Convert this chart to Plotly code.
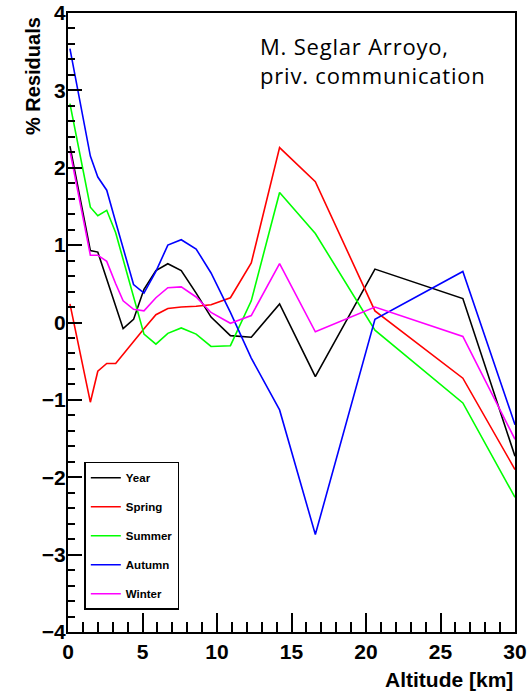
import plotly.graph_objects as go

# Altitude levels [km]
altitude = [0.13, 1.5, 2.0, 2.6, 3.2, 3.7, 4.4, 5.1, 5.9, 6.7,
            7.6, 8.6, 9.6, 10.9, 12.3, 14.2, 16.6, 20.6, 26.5, 30.0]

# Residuals [%] per season
year = [2.28, 0.93, 0.91, 0.56, 0.19, -0.08, 0.04, 0.43, 0.67, 0.76,
        0.67, 0.38, 0.07, -0.17, -0.19, 0.24, -0.70, 0.69, 0.31, -1.73]
spring = [0.24, -1.03, -0.63, -0.53, -0.53, -0.41, -0.25, -0.08, 0.10, 0.18,
          0.20, 0.21, 0.23, 0.32, 0.77, 2.26, 1.82, 0.15, -0.72, -1.90]
summer = [2.83, 1.49, 1.38, 1.45, 1.16, 0.82, 0.33, -0.15, -0.28, -0.14,
          -0.07, -0.15, -0.31, -0.30, 0.28, 1.68, 1.15, -0.10, -1.04, -2.26]
autumn = [3.54, 2.15, 1.88, 1.71, 1.30, 0.96, 0.49, 0.38, 0.66, 1.00,
          1.07, 0.95, 0.64, 0.13, -0.46, -1.13, -2.74, 0.04, 0.66, -1.32]
winter = [2.22, 0.87, 0.87, 0.79, 0.50, 0.28, 0.17, 0.15, 0.32, 0.45,
          0.46, 0.33, 0.13, -0.01, 0.09, 0.76, -0.12, 0.20, -0.18, -1.51]

series = [
    ("Year", year, "#000000"),
    ("Spring", spring, "#ff0000"),
    ("Summer", summer, "#00ff00"),
    ("Autumn", autumn, "#0000ff"),
    ("Winter", winter, "#ff00ff"),
]

fig = go.Figure()
for name, vals, color in series:
    fig.add_trace(go.Scatter(
        x=altitude, y=vals, name=name, mode="lines",
        legendgroup=name,
        line=dict(color=color, width=1.6),
    ))

bold = dict(family="Liberation Sans", size=21, color="black", weight="bold")

credit_style = "letter-spacing:0.8px"
credit_text = (f'<span style="{credit_style}">M. Seglar Arroyo,</span><br>'
               f'<span style="{credit_style}">priv. communication</span>')

fig.update_layout(
    width=527, height=692,
    margin=dict(l=68, r=12, t=13, b=60),
    paper_bgcolor="white", plot_bgcolor="white",
    showlegend=True,
    legend=dict(
        x=0.0365, y=0.275, xanchor="left", yanchor="top",
        bgcolor="white", bordercolor="black", borderwidth=1.5,
        font=dict(family="Liberation Sans", size=11.5, color="black", weight="bold"),
        traceorder="grouped", tracegroupgap=10,
        itemwidth=30,
    ),
    xaxis=dict(
        range=[0, 30], tickmode="linear", tick0=0, dtick=5,
        ticks="inside", ticklen=19, tickwidth=1.5, tickcolor="black",
        minor=dict(dtick=1, ticks="inside", ticklen=10, tickwidth=1.5, tickcolor="black"),
        showline=True, linecolor="black", linewidth=2, mirror=True,
        showgrid=False, zeroline=False, automargin=False,
        tickfont=bold,
    ),
    yaxis=dict(
        range=[-4, 4], tickmode="linear", tick0=0, dtick=1,
        ticks="inside", ticklen=14, tickwidth=1.5, tickcolor="black",
        minor=dict(dtick=0.2, ticks="inside", ticklen=7, tickwidth=1.5, tickcolor="black"),
        showline=True, linecolor="black", linewidth=2, mirror=True,
        showgrid=False, zeroline=False, automargin=False,
        ticklabelstandoff=-4,
        tickfont=bold,
    ),
    annotations=[
        dict(text="% Residuals", textangle=-90, xref="paper", yref="paper",
             x=-0.078, y=0.997, xanchor="center", yanchor="top", showarrow=False,
             font=dict(family="Liberation Sans", size=20, color="black", weight="bold")),
        dict(text="Altitude [km]", xref="paper", yref="paper",
             x=1.0, y=-0.0775, xanchor="right", yanchor="middle", showarrow=False,
             font=dict(family="Liberation Sans", size=21, color="black", weight="bold")),
        dict(text=credit_text, xref="paper", yref="paper",
             x=0.425, y=(632 - 60) / 619, xanchor="left", yanchor="middle",
             align="left", showarrow=False,
             font=dict(family="Open Sans", size=22, color="black")),
    ],
)

fig.write_html("out.html")
